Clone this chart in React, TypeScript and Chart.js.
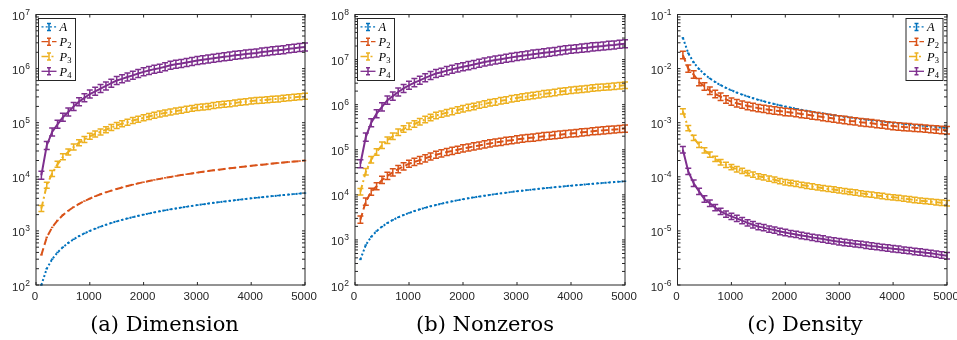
import React, { useEffect, useRef } from 'react';
import { Chart, registerables } from 'chart.js';

Chart.register(...registerables);

// ---------- data ----------
const X_VALUES = [100, 200, 300, 400, 500, 600, 700, 800, 900, 1000, 1100, 1200, 1300, 1400, 1500, 1600, 1700, 1800, 1900, 2000, 2100, 2200, 2300, 2400, 2500, 2600, 2700, 2800, 2900, 3000, 3100, 3200, 3300, 3400, 3500, 3600, 3700, 3800, 3900, 4000, 4100, 4200, 4300, 4400, 4500, 4600, 4700, 4800, 4900, 5000];

const X_TICKS = [0, 1000, 2000, 3000, 4000, 5000];

const SERIES_LABELS = ['A', 'P2', 'P3', 'P4'];

// (a) Dimension
const DIM_A = [100, 200, 300, 400, 500, 600, 700, 800, 900, 1000, 1100, 1200, 1300, 1400, 1500, 1600, 1700, 1800, 1900, 2000, 2100, 2200, 2300, 2400, 2500, 2600, 2700, 2800, 2900, 3000, 3100, 3200, 3300, 3400, 3500, 3600, 3700, 3800, 3900, 4000, 4100, 4200, 4300, 4400, 4500, 4600, 4700, 4800, 4900, 5000];
const DIM_P2 = [360, 760, 1160, 1560, 1960, 2360, 2760, 3160, 3560, 3960, 4360, 4760, 5160, 5560, 5960, 6360, 6760, 7160, 7560, 7960, 8360, 8760, 9160, 9560, 9960, 10360, 10760, 11160, 11560, 11960, 12360, 12760, 13160, 13560, 13960, 14360, 14760, 15160, 15560, 15960, 16360, 16760, 17160, 17560, 17960, 18360, 18760, 19160, 19560, 19960];
const DIM_P3 = [2600, 7000, 11500, 17000, 23400, 28800, 35500, 42700, 49000, 56200, 61700, 67600, 74100, 81300, 89100, 95500, 102000, 110000, 116000, 123000, 130000, 138000, 145000, 151000, 158000, 164000, 170000, 178000, 184000, 191000, 195000, 200000, 207000, 214000, 219000, 224000, 232000, 240000, 245000, 251000, 257000, 260000, 266000, 272000, 275000, 282000, 288000, 295000, 302000, 309000];
const DIM_P4 = [10700, 38000, 67600, 93300, 126000, 158000, 200000, 245000, 288000, 339000, 380000, 427000, 479000, 537000, 603000, 646000, 700000, 750000, 813000, 871000, 923000, 977000, 1020000, 1080000, 1150000, 1200000, 1240000, 1300000, 1350000, 1410000, 1460000, 1510000, 1550000, 1600000, 1660000, 1700000, 1760000, 1800000, 1860000, 1910000, 1950000, 2020000, 2070000, 2140000, 2190000, 2240000, 2320000, 2370000, 2450000, 2510000];
const DIM_ERR = [0, 0.02, 0.136, 0.186];
const DIM_EXPONENTS = [2, 3, 4, 5, 6, 7];

// (b) Nonzeros
const NNZ_A = [370, 770, 1170, 1570, 1970, 2370, 2770, 3170, 3570, 3970, 4370, 4770, 5170, 5570, 5970, 6370, 6770, 7170, 7570, 7970, 8370, 8770, 9170, 9570, 9970, 10370, 10770, 11170, 11570, 11970, 12370, 12770, 13170, 13570, 13970, 14370, 14770, 15170, 15570, 15970, 16370, 16770, 17170, 17570, 17970, 18370, 18770, 19170, 19570, 19970];
const NNZ_P2 = [2820, 7080, 11700, 15500, 21400, 26300, 31600, 37200, 42700, 49000, 53700, 58900, 64600, 70800, 77600, 83200, 89100, 94400, 100000, 107000, 112000, 119000, 124000, 132000, 138000, 145000, 150000, 157000, 162000, 170000, 176000, 182000, 186000, 193000, 200000, 204000, 211000, 216000, 224000, 229000, 234000, 243000, 248000, 257000, 263000, 269000, 275000, 282000, 288000, 295000];
const NNZ_P3 = [11700, 32400, 60300, 89100, 126000, 162000, 200000, 245000, 288000, 331000, 372000, 417000, 468000, 519000, 575000, 617000, 661000, 708000, 759000, 813000, 861000, 912000, 977000, 1040000, 1100000, 1150000, 1220000, 1270000, 1350000, 1410000, 1480000, 1530000, 1600000, 1660000, 1740000, 1800000, 1860000, 1950000, 2020000, 2090000, 2140000, 2210000, 2260000, 2340000, 2400000, 2450000, 2510000, 2570000, 2630000, 2690000];
const NNZ_P4 = [49000, 191000, 398000, 631000, 891000, 1260000, 1550000, 1910000, 2290000, 2690000, 3090000, 3470000, 3940000, 4420000, 4900000, 5250000, 5690000, 6100000, 6530000, 6920000, 7330000, 7760000, 8320000, 8810000, 9330000, 9770000, 10200000, 10700000, 11200000, 11700000, 12200000, 12600000, 13200000, 13600000, 14100000, 14600000, 15100000, 15800000, 16400000, 17000000, 17400000, 18000000, 18400000, 19100000, 19500000, 20000000, 20700000, 21100000, 21900000, 22400000];
const NNZ_ERR = [0, 0.2, 0.18, 0.23];
const NNZ_EXPONENTS = [2, 3, 4, 5, 6, 7, 8];

// (c) Density
const DEN_A = [0.037, 0.01925, 0.013, 0.00981, 0.00788, 0.00658, 0.00565, 0.00495, 0.00441, 0.00397, 0.00361, 0.00331, 0.00306, 0.00284, 0.00265, 0.00249, 0.00234, 0.00221, 0.0021, 0.00199, 0.0019, 0.00181, 0.00173, 0.00166, 0.0016, 0.00153, 0.00148, 0.00142, 0.00138, 0.00133, 0.00129, 0.00125, 0.00121, 0.00117, 0.00114, 0.00111, 0.00108, 0.00105, 0.00102, 0.000998, 0.000974, 0.000951, 0.000929, 0.000908, 0.000887, 0.000868, 0.00085, 0.000832, 0.000815, 0.000799];
const DEN_P2 = [0.0178, 0.01, 0.00776, 0.00562, 0.00468, 0.00389, 0.00339, 0.00302, 0.00269, 0.00245, 0.00229, 0.00216, 0.00204, 0.00195, 0.00186, 0.0018, 0.00174, 0.00168, 0.00164, 0.00158, 0.00155, 0.0015, 0.00145, 0.00141, 0.00136, 0.00132, 0.00127, 0.00123, 0.00119, 0.00115, 0.00112, 0.00108, 0.00106, 0.00102, 0.001, 0.000977, 0.000944, 0.000923, 0.000891, 0.000871, 0.000851, 0.000832, 0.000822, 0.000804, 0.000794, 0.000776, 0.000759, 0.00075, 0.000733, 0.000724];
const DEN_P3 = [0.00162, 0.000794, 0.000525, 0.000389, 0.000309, 0.000257, 0.000214, 0.000186, 0.000166, 0.000151, 0.000138, 0.000129, 0.000117, 0.00011, 0.000102, 9.77e-5, 9.23e-5, 8.81e-5, 8.32e-5, 7.94e-5, 7.67e-5, 7.41e-5, 7.08e-5, 6.84e-5, 6.61e-5, 6.38e-5, 6.17e-5, 5.96e-5, 5.82e-5, 5.62e-5, 5.43e-5, 5.25e-5, 5.13e-5, 4.95e-5, 4.79e-5, 4.68e-5, 4.52e-5, 4.42e-5, 4.27e-5, 4.17e-5, 4.07e-5, 3.94e-5, 3.85e-5, 3.72e-5, 3.63e-5, 3.55e-5, 3.47e-5, 3.39e-5, 3.31e-5, 3.24e-5];
const DEN_P4 = [3.16e-4, 1.26e-4, 7.59e-5, 5.37e-5, 3.89e-5, 3.24e-5, 2.69e-5, 2.29e-5, 2.04e-5, 1.86e-5, 1.7e-5, 1.55e-5, 1.41e-5, 1.3e-5, 1.2e-5, 1.15e-5, 1.08e-5, 1.035e-5, 9.77e-6, 9.33e-6, 8.91e-6, 8.61e-6, 8.22e-6, 7.94e-6, 7.59e-6, 7.33e-6, 7.08e-6, 6.76e-6, 6.53e-6, 6.31e-6, 6.1e-6, 5.96e-6, 5.75e-6, 5.62e-6, 5.43e-6, 5.25e-6, 5.13e-6, 4.95e-6, 4.84e-6, 4.68e-6, 4.57e-6, 4.42e-6, 4.32e-6, 4.17e-6, 4.07e-6, 3.94e-6, 3.85e-6, 3.72e-6, 3.59e-6, 3.47e-6];
const DEN_ERR = [0.02, 0.17, 0.12, 0.145];
const DEN_EXPONENTS = [-6, -5, -4, -3, -2, -1];

const CAPTIONS = ['(a) Dimension', '(b) Nonzeros', '(c) Density'];

// ---------- styles ----------
const SERIES_COLORS = ['#0072BD', '#D95319', '#EDB120', '#7E2F8E'];
const SERIES_DASH = [[2, 2.2], [7, 3.5], [7, 3, 2, 3], []];
const AXIS_COLOR = '#262626';
const TICK_FONT = '"Liberation Sans", Arial, sans-serif';

type PanelCfg = {
  series: number[][];
  errs: number[];
  exps: number[];
  canvasLeft: number;
  canvasWidth: number;
  pad: { left: number; right: number; top: number; bottom: number };
  legendSide: 'left' | 'right';
  captionCenter: number;
};

const PANELS: PanelCfg[] = [
  { series: [DIM_A, DIM_P2, DIM_P3, DIM_P4], errs: DIM_ERR, exps: DIM_EXPONENTS, canvasLeft: 0, canvasWidth: 320, pad: { left: 36, right: 15, top: 14.5, bottom: 55 }, legendSide: 'left', captionCenter: 164.5 },
  { series: [NNZ_A, NNZ_P2, NNZ_P3, NNZ_P4], errs: NNZ_ERR, exps: NNZ_EXPONENTS, canvasLeft: 320, canvasWidth: 320, pad: { left: 35, right: 15, top: 14.5, bottom: 55 }, legendSide: 'left', captionCenter: 485 },
  { series: [DEN_A, DEN_P2, DEN_P3, DEN_P4], errs: DEN_ERR, exps: DEN_EXPONENTS, canvasLeft: 640, canvasWidth: 317, pad: { left: 37.5, right: 10, top: 14.5, bottom: 55 }, legendSide: 'right', captionCenter: 805 },
];

function drawErrGlyph(ctx: CanvasRenderingContext2D, x: number, yHi: number, yLo: number, cap: number) {
  ctx.beginPath();
  ctx.moveTo(x, yHi);
  ctx.lineTo(x, yLo);
  ctx.moveTo(x - cap, yHi);
  ctx.lineTo(x + cap, yHi);
  ctx.moveTo(x - cap, yLo);
  ctx.lineTo(x + cap, yLo);
  ctx.stroke();
}

function makeFramePlugin(cfg: PanelCfg) {
  return {
    id: 'matlabFrame',
    afterDatasetDraw(chart: any, args: any) {
      const ds = chart.data.datasets[args.index];
      const err = ds.relErr;
      const xs = chart.scales.x;
      const ys = chart.scales.y;
      const ctx = chart.ctx;
      ctx.save();
      ctx.strokeStyle = ds.borderColor;
      ctx.lineWidth = 1.5;
      ctx.setLineDash([]);
      ds.data.forEach((p: any) => {
        const px = xs.getPixelForValue(p.x);
        const py = ys.getPixelForValue(p.y);
        if (err < 0.05) {
          // negligible spread: the caps collapse onto the point
          ctx.beginPath();
          ctx.moveTo(px - 1.2, py);
          ctx.lineTo(px + 1.2, py);
          ctx.stroke();
          return;
        }
        const yHi = ys.getPixelForValue(p.y * (1 + err));
        const yLo = ys.getPixelForValue(p.y / (1 + err));
        drawErrGlyph(ctx, px, yHi, yLo, 3);
      });
      ctx.restore();
    },
    afterDraw(chart: any) {
      const ctx = chart.ctx;
      const { left, right, top, bottom } = chart.chartArea;
      const xs = chart.scales.x;
      const ys = chart.scales.y;
      ctx.save();
      ctx.setLineDash([]);
      ctx.strokeStyle = AXIS_COLOR;
      ctx.lineWidth = 1;
      ctx.strokeRect(left, top, right - left, bottom - top);

      const tl = 3;
      ctx.beginPath();
      X_TICKS.forEach((t) => {
        const px = xs.getPixelForValue(t);
        ctx.moveTo(px, bottom);
        ctx.lineTo(px, bottom - tl);
        ctx.moveTo(px, top);
        ctx.lineTo(px, top + tl);
      });
      const hi = cfg.exps[cfg.exps.length - 1];
      cfg.exps.forEach((e) => {
        for (let m = 1; m <= 9; m++) {
          if (e === hi && m > 1) break;
          const py = ys.getPixelForValue(m * Math.pow(10, e));
          ctx.moveTo(left, py);
          ctx.lineTo(left + tl, py);
          ctx.moveTo(right, py);
          ctx.lineTo(right - tl, py);
        }
      });
      ctx.stroke();

      // x tick labels
      ctx.fillStyle = AXIS_COLOR;
      ctx.font = `11.5px ${TICK_FONT}`;
      ctx.textAlign = 'center';
      ctx.textBaseline = 'alphabetic';
      X_TICKS.forEach((t) => {
        ctx.fillText(String(t), xs.getPixelForValue(t) - 1, bottom + 15);
      });

      // y tick labels 10^e
      ctx.textAlign = 'right';
      cfg.exps.forEach((e) => {
        const py = ys.getPixelForValue(Math.pow(10, e));
        const expStr = String(e);
        ctx.font = `8.5px ${TICK_FONT}`;
        const ew = ctx.measureText(expStr).width;
        const xr = left - 6;
        ctx.fillText(expStr, xr, py + 0.5);
        ctx.font = `11.5px ${TICK_FONT}`;
        ctx.fillText('10', xr - ew - 0.5, py + 5.5);
      });

      // legend
      const w = 37;
      const h = 62;
      const bx = cfg.legendSide === 'left' ? left + 2.5 : right - 4 - w;
      const by = top + 4;
      ctx.fillStyle = '#ffffff';
      ctx.fillRect(bx, by, w, h);
      ctx.strokeStyle = AXIS_COLOR;
      ctx.lineWidth = 1;
      ctx.strokeRect(bx, by, w, h);
      chart.data.datasets.forEach((ds: any, i: number) => {
        const cy = by + 8.4 + i * 14.8;
        ctx.strokeStyle = ds.borderColor;
        ctx.lineWidth = 1.3;
        ctx.setLineDash(ds.borderDash || []);
        ctx.beginPath();
        ctx.moveTo(bx + 3, cy);
        ctx.lineTo(bx + 18, cy);
        ctx.stroke();
        ctx.setLineDash([]);
        ctx.lineWidth = 1.5;
        drawErrGlyph(ctx, bx + 10.5, cy - 3.5, cy + 3.5, 2);
        const label: string = ds.label;
        ctx.fillStyle = '#000000';
        ctx.textAlign = 'left';
        ctx.font = 'italic 12.5px "Liberation Serif", serif';
        const main = label.charAt(0);
        ctx.fillText(main, bx + 21, cy + 4.3);
        if (label.length > 1) {
          const mw = ctx.measureText(main).width;
          ctx.font = '8.5px "Liberation Serif", serif';
          ctx.fillText(label.slice(1), bx + 21 + mw, cy + 6.5);
        }
      });
      ctx.restore();
    },
  };
}

export default function App() {
  const refs = [useRef<HTMLCanvasElement>(null), useRef<HTMLCanvasElement>(null), useRef<HTMLCanvasElement>(null)];

  useEffect(() => {
    const charts = PANELS.map((cfg, pi) => {
      const canvas = refs[pi].current as HTMLCanvasElement;
      return new Chart(canvas, {
        type: 'line',
        data: {
          datasets: cfg.series.map((arr, si) => ({
            label: SERIES_LABELS[si],
            data: X_VALUES.map((x, k) => ({ x, y: arr[k] })),
            borderColor: SERIES_COLORS[si],
            borderWidth: 2,
            borderDash: SERIES_DASH[si],
            pointRadius: 0,
            fill: false,
            tension: 0,
            order: 3 - si,
            relErr: cfg.errs[si],
          })) as any,
        },
        options: {
          responsive: false,
          maintainAspectRatio: false,
          animation: false,
          layout: { padding: cfg.pad },
          scales: {
            x: { type: 'linear', min: 0, max: 5000, display: false },
            y: { type: 'logarithmic', min: Math.pow(10, cfg.exps[0]), max: Math.pow(10, cfg.exps[cfg.exps.length - 1]), display: false },
          },
          plugins: { legend: { display: false }, tooltip: { enabled: false } },
        } as any,
        plugins: [makeFramePlugin(cfg)],
      });
    });
    return () => charts.forEach((c) => c.destroy());
  }, []);

  return (
    <div style={{ position: 'absolute', left: 0, top: 0, width: 957, height: 340, background: '#ffffff' }}>
      {PANELS.map((cfg, pi) => (
        <canvas
          key={'c' + pi}
          ref={refs[pi]}
          width={cfg.canvasWidth}
          height={340}
          style={{ position: 'absolute', left: cfg.canvasLeft, top: 0, width: cfg.canvasWidth, height: 340 }}
        />
      ))}
      {PANELS.map((cfg, pi) => (
        <div
          key={'t' + pi}
          style={{
            position: 'absolute',
            left: cfg.captionCenter - 120,
            width: 240,
            top: 314.2,
            textAlign: 'center',
            fontFamily: '"DejaVu Serif", serif',
            fontSize: 21,
            lineHeight: '21px',
            color: '#000000',
            whiteSpace: 'nowrap',
          }}
        >
          {CAPTIONS[pi]}
        </div>
      ))}
    </div>
  );
}
